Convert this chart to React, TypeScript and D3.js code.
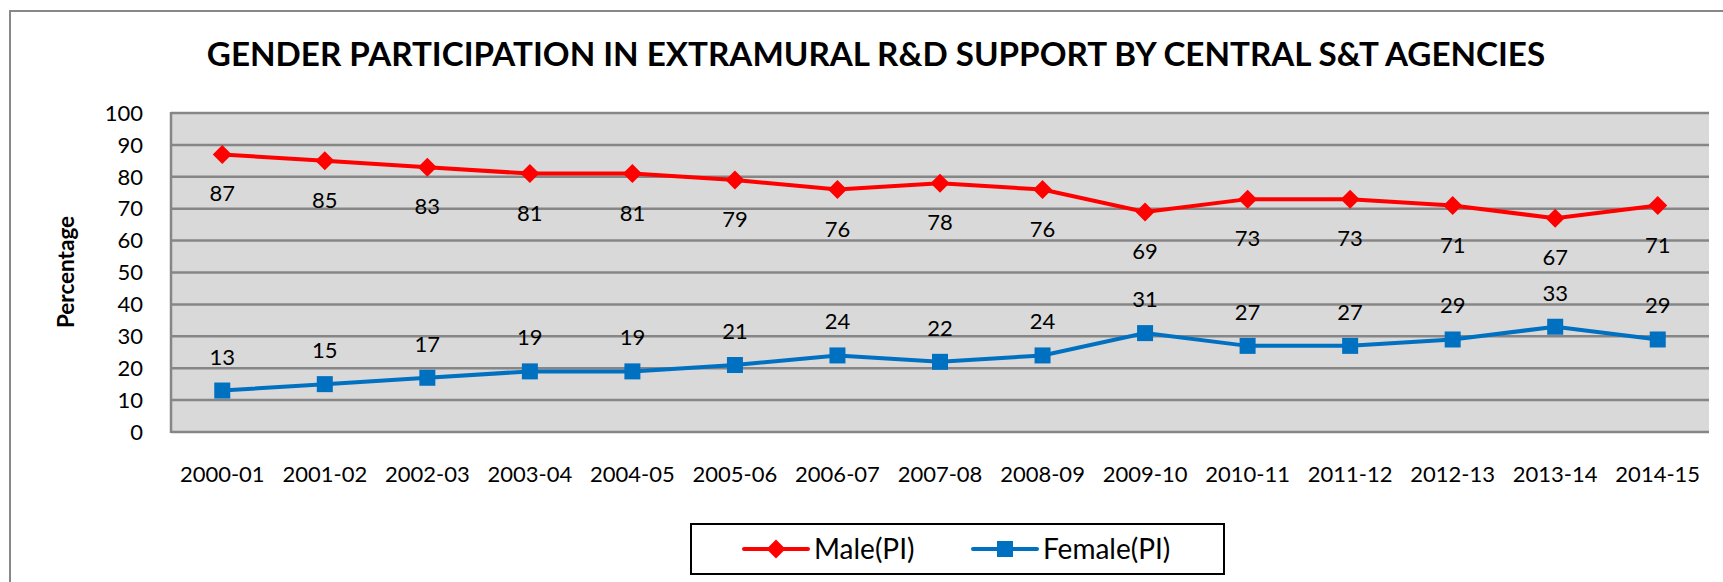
import React from "react";
import * as d3 from "d3";

const categories = ["2000-01","2001-02","2002-03","2003-04","2004-05","2005-06","2006-07","2007-08","2008-09","2009-10","2010-11","2011-12","2012-13","2013-14","2014-15"];
const maleValues = [87,85,83,81,81,79,76,78,76,69,73,73,71,67,71];
const femaleValues = [13,15,17,19,19,21,24,22,24,31,27,27,29,33,29];
const yTicks = [0,10,20,30,40,50,60,70,80,90,100];
const title = "GENDER PARTICIPATION IN EXTRAMURAL R&D SUPPORT BY CENTRAL S&T AGENCIES";
const yTitle = "Percentage";
const seriesNames = ["Male(PI)", "Female(PI)"];

const W = 1723, H = 582;
const plot = { left: 171, right: 1709, top: 113, bottom: 432 };
const RED = "#FF0000", BLUE = "#0070C0", GRID = "#868686";
const FONT = "Lato, 'Open Sans', sans-serif";

export default function App() {
  const x = d3.scalePoint<string>().domain(categories).range([plot.left, plot.right]).padding(0.5);
  const y = d3.scaleLinear().domain([0, 100]).range([plot.bottom, plot.top]);
  const line = d3.line<number>().x((_, i) => x(categories[i])!).y(d => y(d));

  const diamond = (cx: number, cy: number, r: number) => `M${cx},${cy - r}L${cx + r},${cy}L${cx},${cy + r}L${cx - r},${cy}Z`;

  return (
    <svg width={W} height={H} style={{ position: "absolute", left: 0, top: 0, background: "#fff" }} fontFamily={FONT}>
      <path d={`M10,${H}V11H${W}`} fill="none" stroke="#888" strokeWidth={2} />
      <text x={876} y={66} textAnchor="middle" fontSize={33.2} fontWeight={700} fill="#000">{title}</text>

      <rect x={plot.left} y={plot.top} width={plot.right - plot.left} height={plot.bottom - plot.top} fill="#D9D9D9" />
      {yTicks.map(t => (
        <g key={t}>
          <line x1={plot.left} x2={plot.right} y1={y(t)} y2={y(t)} stroke={GRID} strokeWidth={2.5} />
          <text x={143} y={y(t)} dy="0.35em" textAnchor="end" fontSize={22} fill="#000">{t}</text>
        </g>
      ))}
      <line x1={plot.left} x2={plot.left} y1={plot.top - 1} y2={plot.bottom + 1} stroke={GRID} strokeWidth={2.5} />

      <text transform={`translate(66,272) rotate(-90)`} textAnchor="middle" dy="0.35em" fontSize={22.5} fontWeight={700} fill="#000">{yTitle}</text>

      {categories.map(c => (
        <text key={c} x={x(c)} y={482} textAnchor="middle" fontSize={22} fill="#000">{c}</text>
      ))}

      <path d={line(maleValues)!} fill="none" stroke={RED} strokeWidth={4} />
      {maleValues.map((v, i) => (
        <path key={i} d={diamond(x(categories[i])!, y(v), 9.5)} fill={RED} />
      ))}
      {maleValues.map((v, i) => (
        <text key={i} x={x(categories[i])} y={y(v) + 47} textAnchor="middle" fontSize={22} fill="#000">{v}</text>
      ))}

      <path d={line(femaleValues)!} fill="none" stroke={BLUE} strokeWidth={4} />
      {femaleValues.map((v, i) => (
        <rect key={i} x={x(categories[i])! - 8} y={y(v) - 8} width={16} height={16} fill={BLUE} />
      ))}
      {femaleValues.map((v, i) => (
        <text key={i} x={x(categories[i])} y={y(v) - 26} textAnchor="middle" fontSize={22} fill="#000">{v}</text>
      ))}

      <rect x={691} y={524} width={533} height={50} fill="#fff" stroke="#000" strokeWidth={2} />
      <line x1={744} x2={808} y1={549} y2={549} stroke={RED} strokeWidth={4} strokeLinecap="round" />
      <path d={diamond(776, 549, 9.5)} fill={RED} />
      <text x={814} y={559} fontSize={28} fill="#000">{seriesNames[0]}</text>
      <line x1={973} x2={1037} y1={549} y2={549} stroke={BLUE} strokeWidth={4} strokeLinecap="round" />
      <rect x={997} y={541} width={16} height={16} fill={BLUE} />
      <text x={1043} y={559} fontSize={28} fill="#000">{seriesNames[1]}</text>
    </svg>
  );
}
